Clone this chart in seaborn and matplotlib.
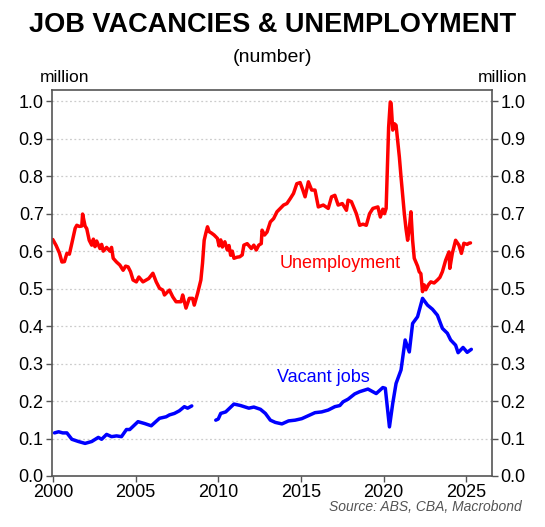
"""Job vacancies & unemployment chart."""
import matplotlib
matplotlib.use('Agg')
import matplotlib.pyplot as plt
import seaborn as sns
import pandas as pd

# Unemployed persons (million)
unemp_year = [
    2000.0, 2000.2, 2000.4, 2000.55, 2000.7, 2000.85, 2001.0, 2001.15, 2001.35, 2001.45,
    2001.6, 2001.75, 2001.8, 2001.95, 2002.05, 2002.2, 2002.35, 2002.45, 2002.55, 2002.65,
    2002.85, 2002.95, 2003.05, 2003.25, 2003.45, 2003.55, 2003.65, 2003.85, 2004.05, 2004.25,
    2004.4, 2004.55, 2004.7, 2004.85, 2005.05, 2005.2, 2005.45, 2005.6, 2005.8, 2006.05,
    2006.25, 2006.45, 2006.65, 2006.75, 2006.95, 2007.05, 2007.25, 2007.45, 2007.75, 2007.85,
    2008.05, 2008.25, 2008.45, 2008.55, 2008.75, 2008.95, 2009.05, 2009.15, 2009.25, 2009.35,
    2009.45, 2009.6, 2009.75, 2009.95, 2010.05, 2010.15, 2010.25, 2010.4, 2010.55, 2010.65,
    2010.75, 2010.85, 2010.95, 2011.15, 2011.3, 2011.45, 2011.55, 2011.75, 2011.9, 2012.0,
    2012.15, 2012.3, 2012.45, 2012.6, 2012.65, 2012.8, 2012.95, 2013.15, 2013.35, 2013.55,
    2013.75, 2013.95, 2014.15, 2014.35, 2014.55, 2014.75, 2014.95, 2015.1, 2015.25, 2015.45,
    2015.65, 2015.85, 2016.05, 2016.35, 2016.65, 2016.85, 2017.05, 2017.25, 2017.5, 2017.75,
    2017.85, 2018.05, 2018.35, 2018.55, 2018.75, 2018.95, 2019.15, 2019.35, 2019.65, 2019.8,
    2019.95, 2020.05, 2020.15, 2020.3, 2020.4, 2020.45, 2020.55, 2020.65, 2020.75, 2020.95,
    2021.05, 2021.25, 2021.35, 2021.45, 2021.55, 2021.65, 2021.75, 2021.85, 2022.05, 2022.15,
    2022.25, 2022.35, 2022.45, 2022.55, 2022.7, 2022.85, 2023.05, 2023.25, 2023.4, 2023.55,
    2023.75, 2023.95, 2024.0, 2024.15, 2024.35, 2024.55, 2024.7, 2024.85, 2025.05, 2025.15,
    2025.25,
]
unemp_val = [
    0.631, 0.615, 0.595, 0.571, 0.572, 0.594, 0.592, 0.621, 0.661, 0.669,
    0.666, 0.667, 0.699, 0.667, 0.660, 0.629, 0.616, 0.632, 0.612, 0.627,
    0.607, 0.618, 0.600, 0.610, 0.600, 0.610, 0.581, 0.571, 0.563, 0.549,
    0.560, 0.558, 0.545, 0.523, 0.518, 0.531, 0.518, 0.522, 0.527, 0.541,
    0.518, 0.501, 0.496, 0.483, 0.492, 0.496, 0.478, 0.465, 0.465, 0.483,
    0.448, 0.474, 0.474, 0.456, 0.487, 0.523, 0.568, 0.629, 0.648, 0.665,
    0.652, 0.648, 0.643, 0.634, 0.614, 0.630, 0.611, 0.625, 0.603, 0.615,
    0.589, 0.600, 0.581, 0.584, 0.585, 0.590, 0.616, 0.620, 0.612, 0.607,
    0.616, 0.603, 0.616, 0.620, 0.656, 0.643, 0.651, 0.678, 0.687, 0.705,
    0.714, 0.723, 0.727, 0.740, 0.754, 0.780, 0.783, 0.765, 0.745, 0.785,
    0.763, 0.763, 0.718, 0.723, 0.714, 0.745, 0.749, 0.723, 0.727, 0.709,
    0.736, 0.732, 0.700, 0.669, 0.672, 0.669, 0.700, 0.714, 0.718, 0.691,
    0.712, 0.700, 0.714, 0.930, 0.998, 0.995, 0.923, 0.940, 0.936, 0.851,
    0.798, 0.700, 0.660, 0.629, 0.660, 0.705, 0.629, 0.581, 0.560, 0.545,
    0.540, 0.492, 0.510, 0.497, 0.510, 0.518, 0.515, 0.523, 0.530, 0.545,
    0.576, 0.598, 0.554, 0.594, 0.629, 0.616, 0.594, 0.621, 0.618, 0.621,
    0.622,
]

# Job vacancies (million); survey suspended mid-2008 to late 2009
vac_year_a = [
    2000.1, 2000.35, 2000.6, 2000.85, 2001.15, 2001.55, 2001.95, 2002.35, 2002.75, 2002.95,
    2003.25, 2003.55, 2003.85, 2004.15, 2004.45, 2004.65, 2005.15, 2005.55, 2005.95, 2006.45,
    2006.85, 2007.05, 2007.35, 2007.65, 2007.95, 2008.15, 2008.4,
]
vac_val_a = [
    0.115, 0.118, 0.115, 0.115, 0.098, 0.092, 0.087, 0.092, 0.103, 0.098,
    0.111, 0.105, 0.107, 0.105, 0.124, 0.124, 0.145, 0.140, 0.134, 0.154,
    0.158, 0.163, 0.167, 0.174, 0.185, 0.181, 0.187,
]
vac_year_b = [
    2009.85, 2010.0, 2010.15, 2010.45, 2010.95, 2011.35, 2011.85, 2012.15, 2012.55, 2012.85,
    2013.15, 2013.45, 2013.85, 2014.25, 2014.65, 2015.05, 2015.45, 2015.85, 2016.25, 2016.65,
    2017.05, 2017.35, 2017.55, 2017.85, 2018.25, 2018.55, 2019.05, 2019.55, 2019.95, 2020.1,
    2020.35, 2020.55, 2020.75, 2021.05, 2021.3, 2021.55, 2021.75, 2022.05, 2022.35, 2022.65,
    2022.95, 2023.25, 2023.55, 2023.85, 2024.05, 2024.35, 2024.5, 2024.8, 2025.05, 2025.3,
]
vac_val_b = [
    0.149, 0.152, 0.167, 0.171, 0.192, 0.188, 0.181, 0.184, 0.178, 0.167,
    0.149, 0.143, 0.139, 0.147, 0.149, 0.153, 0.161, 0.169, 0.171, 0.176,
    0.185, 0.188, 0.198, 0.205, 0.219, 0.225, 0.232, 0.220, 0.236, 0.234,
    0.131, 0.194, 0.247, 0.283, 0.363, 0.331, 0.407, 0.425, 0.474, 0.456,
    0.445, 0.429, 0.394, 0.381, 0.363, 0.349, 0.329, 0.343, 0.330, 0.338,
]

x_ticks = [2000, 2005, 2010, 2015, 2020, 2025]
y_ticks = [0.0, 0.1, 0.2, 0.3, 0.4, 0.5, 0.6, 0.7, 0.8, 0.9, 1.0]

sns.set_style('white')
plt.rcParams['font.family'] = ['Liberation Sans', 'DejaVu Sans']
plt.rcParams['text.color'] = 'black'
plt.rcParams['xtick.labelcolor'] = 'black'
plt.rcParams['ytick.labelcolor'] = 'black'

unemp = pd.DataFrame({'year': unemp_year, 'value': unemp_val})
vac_segments = [
    pd.DataFrame({'year': vac_year_a, 'value': vac_val_a}),
    pd.DataFrame({'year': vac_year_b, 'value': vac_val_b}),
]

fig = plt.figure(figsize=(5.45, 5.27), dpi=100)
ax = fig.add_axes([52 / 545, 51 / 527, 440 / 545, 386 / 527])

for axis_y in y_ticks[1:]:
    ax.axhline(axis_y, color='#cccccc', lw=0.9, ls=(0, (1.5, 2)), zorder=0)

sns.lineplot(data=unemp, x='year', y='value', color='#ff0000', lw=2.5, ax=ax)
for seg in vac_segments:
    sns.lineplot(data=seg, x='year', y='value', color='#0000ff', lw=2.5, ax=ax)

ax.set_xlim(1999.95, 2026.55)
ax.set_ylim(0, 1.03)
ax.set_xticks(x_ticks)
ax.set_yticks(y_ticks)
ax.set_yticklabels([f'{v:.1f}' for v in y_ticks])
ax.set_xlabel('')
ax.set_ylabel('')
ax.tick_params(axis='both', labelsize=13, length=4, width=1, color='#555555',
               labelcolor='black', direction='out', pad=2)
ax.tick_params(axis='y', left=True, right=True, labelleft=True, labelright=True)
ax.tick_params(axis='x', bottom=True)
for spine in ax.spines.values():
    spine.set_color('#555555')
    spine.set_linewidth(1.2)

ax.text(2017.4, 0.568, 'Unemployment', color='#ff0000', fontsize=13,
        ha='center', va='center')
ax.text(2016.35, 0.264, 'Vacant jobs', color='#0000ff', fontsize=13,
        ha='center', va='center')

fig.text(0.5, 1 - 25 / 527, 'JOB VACANCIES & UNEMPLOYMENT', ha='center',
         va='center', fontsize=19.5, fontweight='bold', color='black')
fig.text(0.5, 1 - 57 / 527, '(number)', ha='center', va='center', fontsize=14,
         color='black')
fig.text(40 / 545, 1 - 77 / 527, 'million', ha='left', va='center', fontsize=12.5,
         color='black')
fig.text(527 / 545, 1 - 77 / 527, 'million', ha='right', va='center', fontsize=12.5,
         color='black')
fig.text(522 / 545, 1 - 507 / 527, 'Source: ABS, CBA, Macrobond', ha='right',
         va='center', fontsize=10, style='italic', color='#555555')

fig.savefig('out.png', dpi=100)
